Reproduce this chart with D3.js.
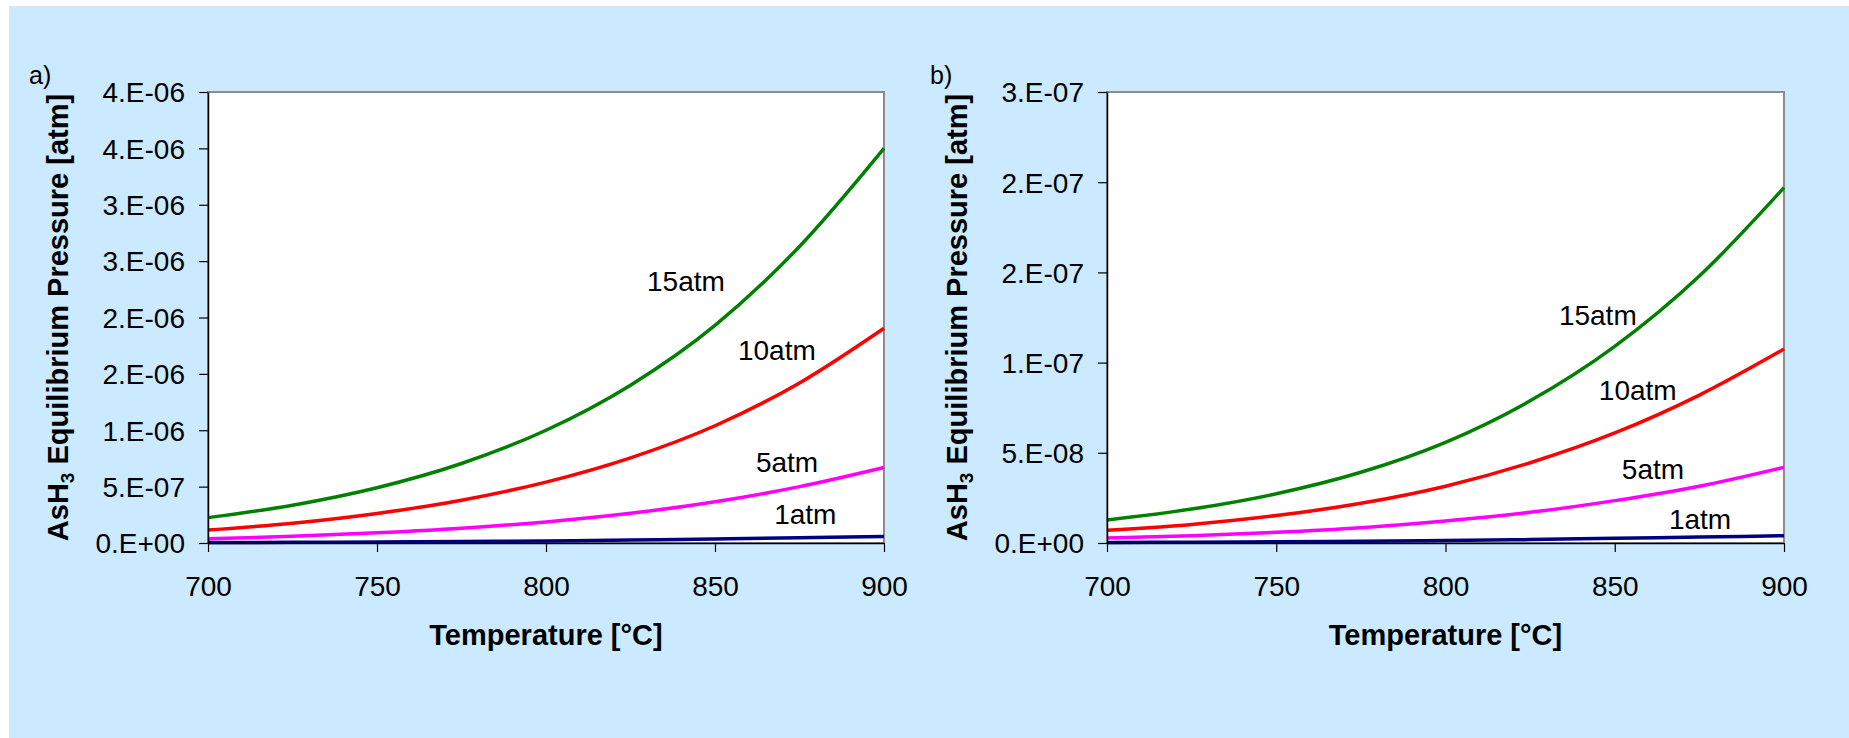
<!DOCTYPE html>
<html>
<head>
<meta charset="utf-8">
<script src="https://cdn.jsdelivr.net/npm/d3@7"></script>
<style>
  html, body { margin: 0; padding: 0; background: #fff; }
  svg { display: block; font-family: 'Liberation Sans', Arial, sans-serif; }
</style>
</head>
<body>
<svg id="chart"></svg>
<script>
// ---- data ---------------------------------------------------------------
const temps = [700, 725, 750, 775, 800, 825, 850, 875, 900];
const seriesNames = ['15atm', '10atm', '5atm', '1atm'];
const seriesColors = ['#008000', '#ff0000', '#ff00ff', '#000080'];

// panel a)
const a15 = [2.25e-7, 3.35e-7, 4.9e-7, 7.05e-7, 1.0e-6, 1.4e-6, 1.93e-6, 2.63e-6, 3.5e-6];
const a10 = [1.15e-7, 1.75e-7, 2.62e-7, 3.8e-7, 5.4e-7, 7.55e-7, 1.04e-6, 1.42e-6, 1.905e-6];
const a5  = [3.8e-8, 5.9e-8, 9.0e-8, 1.31e-7, 1.87e-7, 2.63e-7, 3.65e-7, 5.0e-7, 6.7e-7];
const a1  = [4e-9, 6e-9, 9e-9, 1.3e-8, 1.85e-8, 2.6e-8, 3.5e-8, 4.6e-8, 5.8e-8];

// panel b)
const b15 = [1.28e-8, 1.88e-8, 2.73e-8, 3.92e-8, 5.58e-8, 7.88e-8, 1.09e-7, 1.48e-7, 1.97e-7];
const b10 = [7.0e-9, 1.03e-8, 1.52e-8, 2.2e-8, 3.15e-8, 4.45e-8, 6.1e-8, 8.2e-8, 1.075e-7];
const b5  = [2.8e-9, 4.0e-9, 5.9e-9, 8.5e-9, 1.22e-8, 1.7e-8, 2.35e-8, 3.15e-8, 4.2e-8];
const b1  = [3e-10, 4.5e-10, 6.5e-10, 9.5e-10, 1.35e-9, 1.9e-9, 2.6e-9, 3.3e-9, 4.0e-9];

const xTicks = [700, 750, 800, 850, 900];
const aTicks = [0, 5e-7, 1e-6, 1.5e-6, 2e-6, 2.5e-6, 3e-6, 3.5e-6, 4e-6];
const aTickLabels = ['0.E+00', '5.E-07', '1.E-06', '2.E-06', '2.E-06', '3.E-06', '3.E-06', '4.E-06', '4.E-06'];
const bTicks = [0, 5e-8, 1e-7, 1.5e-7, 2e-7, 2.5e-7];
const bTickLabels = ['0.E+00', '5.E-08', '1.E-07', '2.E-07', '2.E-07', '3.E-07'];

// ---- layout ---------------------------------------------------------------
const W = 1849, H = 738;
const svg = d3.select('#chart').attr('width', W).attr('height', H);

svg.append('rect').attr('x', 9).attr('y', 6).attr('width', W - 9).attr('height', H - 6)
  .attr('fill', '#cceaff');

const panels = [
  { tag: 'a)', tagX: 29, box: { l: 208, t: 92, r: 884, b: 543 },
    ymax: 4e-6, ticks: aTicks, tickLabels: aTickLabels, series: [a15, a10, a5, a1],
    labels: [[829.9, 2.235e-6], [856.8, 1.623e-6], [862.1, 6.3e-7], [867.5, 1.69e-7]] },
  { tag: 'b)', tagX: 930, box: { l: 1107, t: 92, r: 1784, b: 543 },
    ymax: 2.5e-7, ticks: bTicks, tickLabels: bTickLabels, series: [b15, b10, b5, b1],
    labels: [[833.5, 1.206e-7], [845.3, 7.94e-8], [852.1, 3.56e-8], [866.0, 7.8e-9]] }
];

panels.forEach(drawPanel);

function drawPanel(p) {
  const B = p.box;
  const x = d3.scaleLinear().domain([700, 900]).range([B.l, B.r]);
  const y = d3.scaleLinear().domain([0, p.ymax]).range([B.b, B.t]);
  const g = svg.append('g');

  // plot area
  g.append('rect').attr('x', B.l).attr('y', B.t)
    .attr('width', B.r - B.l).attr('height', B.b - B.t)
    .attr('fill', '#fff').attr('stroke', '#8c8c8c').attr('stroke-width', 2);

  // curves
  const line = d3.line().x((d, i) => x(temps[i])).y(d => y(d)).curve(d3.curveMonotoneX);
  p.series.forEach((s, k) => {
    g.append('path').datum(s).attr('d', line)
      .attr('fill', 'none').attr('stroke', seriesColors[k]).attr('stroke-width', 3.5);
  });

  // axes
  const ax = g.append('g').attr('transform', `translate(0,${B.b})`)
    .call(d3.axisBottom(x).tickValues(xTicks).tickSize(9).tickSizeOuter(0));
  ax.selectAll('text').attr('y', 53).attr('dy', null)
    .style('font-size', '28px').attr('fill', '#000');

  const ay = g.append('g').attr('transform', `translate(${B.l},0)`)
    .call(d3.axisLeft(y).tickValues(p.ticks).tickSize(9).tickSizeOuter(0)
      .tickFormat((d, i) => p.tickLabels[i]));
  ay.selectAll('text').attr('x', -23).attr('dy', '0.35em')
    .style('font-size', '28px').attr('fill', '#000');

  [ax, ay].forEach(a => {
    a.attr('font-family', null).attr('font-size', null);
    a.select('.domain').attr('stroke', '#000').attr('stroke-width', 1.5);
    a.selectAll('.tick line').attr('stroke', '#000').attr('stroke-width', 1.2);
  });

  // series labels
  p.labels.forEach((pos, k) => {
    g.append('text').attr('x', x(pos[0])).attr('y', y(pos[1]))
      .style('font-size', '28px').attr('fill', '#000').text(seriesNames[k]);
  });

  // axis titles
  g.append('text').attr('x', (B.l + B.r) / 2).attr('y', 645)
    .attr('text-anchor', 'middle').style('font-size', '29px').style('font-weight', 'bold')
    .text('Temperature [°C]');

  const yt = g.append('text')
    .attr('transform', `translate(${B.l - 140},${(B.t + B.b) / 2}) rotate(-90)`)
    .attr('text-anchor', 'middle').style('font-size', '29px').style('font-weight', 'bold');
  yt.append('tspan').text('AsH');
  yt.append('tspan').attr('dy', 6).style('font-size', '19px').text('3');
  yt.append('tspan').attr('dy', -6).text(' Equilibrium Pressure [atm]');

  // panel tag
  svg.append('text').attr('x', p.tagX).attr('y', 84).style('font-size', '25px').text(p.tag);
}
</script>
</body>
</html>
